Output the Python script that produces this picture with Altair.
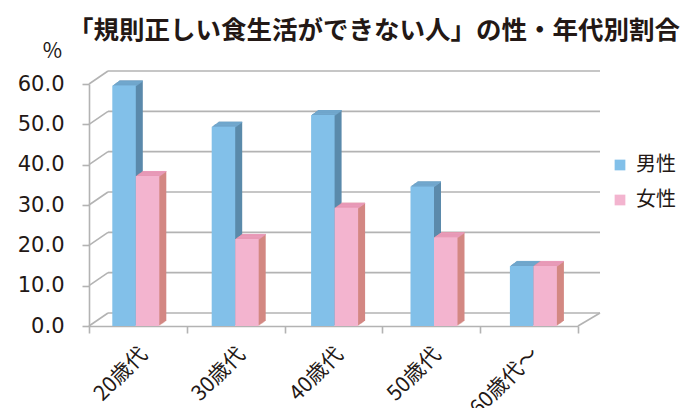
import altair as alt
import pandas as pd

title_text = "「規則正しい食生活ができない人」の性・年代別割合"
ages = ["20歳代", "30歳代", "40歳代", "50歳代", "60歳代～"]
genders = ["男性", "女性"]
male = [59.6, 49.4, 52.3, 34.6, 14.9]
female = [37.2, 21.6, 29.3, 22.0, 14.9]
yticks = [0, 10, 20, 30, 40, 50, 60]

df = pd.DataFrame({
    "age": ages * 2,
    "gender": [genders[0]] * len(ages) + [genders[1]] * len(ages),
    "value": male + female,
})
grid_df = pd.DataFrame({"v": yticks})
title_df = pd.DataFrame({"t": [title_text]})

W, H = 489, 242
DEPTH_X, DEPTH_Y = 20, 13
GRID = "#b3b3b3"
TXT = "#231815"
JP = "Noto Sans CJK JP"

yscale = alt.Scale(domain=[0, 60], nice=False, zero=True)
xscale = alt.Scale(domain=ages, paddingInner=0, paddingOuter=0)
# bars drift slightly to the right (3-D perspective of the original)
bar_xscale = alt.Scale(domain=ages, paddingInner=0, paddingOuter=0, range=[0, 497])

x_axis = alt.Axis(
    title=None, tickBand="extent", domainColor=GRID, domainWidth=1.6,
    tickColor=GRID, tickWidth=1.6, tickSize=7, labelAngle=-45,
    labelAlign="right", labelBaseline="middle", labelOffset=6,
    labelPadding=18, labelFont=JP, labelFontSize=21, labelColor=TXT,
    labelOverlap=False, labelBound=False, labelFlush=False, grid=False,
)
y_axis = alt.Axis(
    title="%", titleAngle=0, titleX=-37, titleY=-33, titleAlign="center",
    titleBaseline="middle", titleFont=JP, titleFontSize=21,
    titleFontWeight="normal", titleColor=TXT,
    values=yticks, format=".1f", domainColor=GRID, domainWidth=1.6,
    tickColor=GRID, tickWidth=1.6, tickSize=7, labelPadding=18,
    labelFont="DejaVu Sans", labelFontSize=21, labelColor=TXT, grid=False,
)

# x axis carrier (invisible marks)
xaxis_layer = alt.Chart(df).mark_tick(opacity=0).encode(
    x=alt.X("age:N", scale=xscale, axis=x_axis),
    y=alt.Y("value:Q", scale=yscale, axis=y_axis),
)
# back wall gridlines
grid = alt.Chart(grid_df).mark_rule(
    color=GRID, strokeWidth=1.6, yOffset=-DEPTH_Y
).encode(
    y=alt.Y("v:Q", scale=yscale, axis=y_axis),
    x=alt.value(DEPTH_X - 1), x2=alt.value(W + DEPTH_X + 2),
)
# left wall diagonals
diag = alt.Chart(grid_df).mark_rule(
    color=GRID, strokeWidth=1.6, y2Offset=-DEPTH_Y
).encode(
    y=alt.Y("v:Q", scale=yscale, axis=y_axis), y2="v:Q",
    x=alt.value(0), x2=alt.value(DEPTH_X - 1),
)
# right floor diagonal
floor_r = alt.Chart(grid_df).transform_filter(alt.datum.v == 0).mark_rule(
    color=GRID, strokeWidth=1.6, y2Offset=-DEPTH_Y
).encode(
    y=alt.Y("v:Q", scale=yscale, axis=y_axis), y2="v:Q",
    x=alt.value(W), x2=alt.value(W + DEPTH_X + 2),
)

BW = 23.5
STEPS = 7
R = 5.0 / 7.0
styles = {
    genders[0]: dict(front="#82c0e9", side="#5b8aab", top="#72a8ce", xoff=-14.65),
    genders[1]: dict(front="#f3b4cf", side="#d38883", top="#e99bba", xoff=8.85),
}

bar_layers = []
for g in genders:
    st = styles[g]
    base = alt.Chart(df).transform_filter(alt.datum.gender == g)
    for k in range(STEPS, 0, -1):
        bar_layers.append(base.mark_bar(
            width=BW, xOffset=st["xoff"] + k, yOffset=-k * R, y2Offset=-k * R,
            color=st["side"]
        ).encode(
            x=alt.X("age:N", scale=bar_xscale, axis=None),
            y=alt.Y("value:Q", scale=yscale, axis=y_axis),
            y2=alt.datum(0),
        ))
    for k in range(STEPS, 0, -1):
        bar_layers.append(base.mark_bar(
            width=BW, xOffset=st["xoff"] + k, yOffset=-k * R,
            y2Offset=-k * R + R + 0.4, color=st["top"]
        ).encode(
            x=alt.X("age:N", scale=bar_xscale, axis=None),
            y=alt.Y("value:Q", scale=yscale, axis=y_axis),
            y2="value:Q",
        ))
    bar_layers.append(base.mark_bar(width=BW, xOffset=st["xoff"]).encode(
        x=alt.X("age:N", scale=bar_xscale, axis=None),
        y=alt.Y("value:Q", scale=yscale, axis=y_axis),
        y2=alt.datum(0),
        color=alt.Color(
            "gender:N",
            scale=alt.Scale(domain=genders, range=[styles[genders[0]]["front"], styles[genders[1]]["front"]]),
            legend=alt.Legend(
                title=None, orient="none", legendX=521, legendY=71,
                symbolType="square", symbolSize=115, symbolStrokeWidth=0,
                labelFont=JP, labelFontSize=20, labelColor=TXT,
                labelOffset=6, rowPadding=15,
            ),
        ),
    ))

title = alt.Chart(title_df).mark_text(
    align="left", baseline="middle", font=JP, fontSize=25.5,
    fontWeight="bold", color=TXT
).encode(text="t:N", x=alt.value(-21), y=alt.value(-53))

chart = alt.layer(xaxis_layer, grid, diag, floor_r, *bar_layers, title).resolve_scale(
    x="independent"
).properties(
    width=W, height=H, autosize="none",
    padding={"left": 81, "top": 76, "right": 103, "bottom": 84},
).configure_view(stroke=None)

chart.save("out.html", embed_options={"renderer": "svg", "actions": False})
